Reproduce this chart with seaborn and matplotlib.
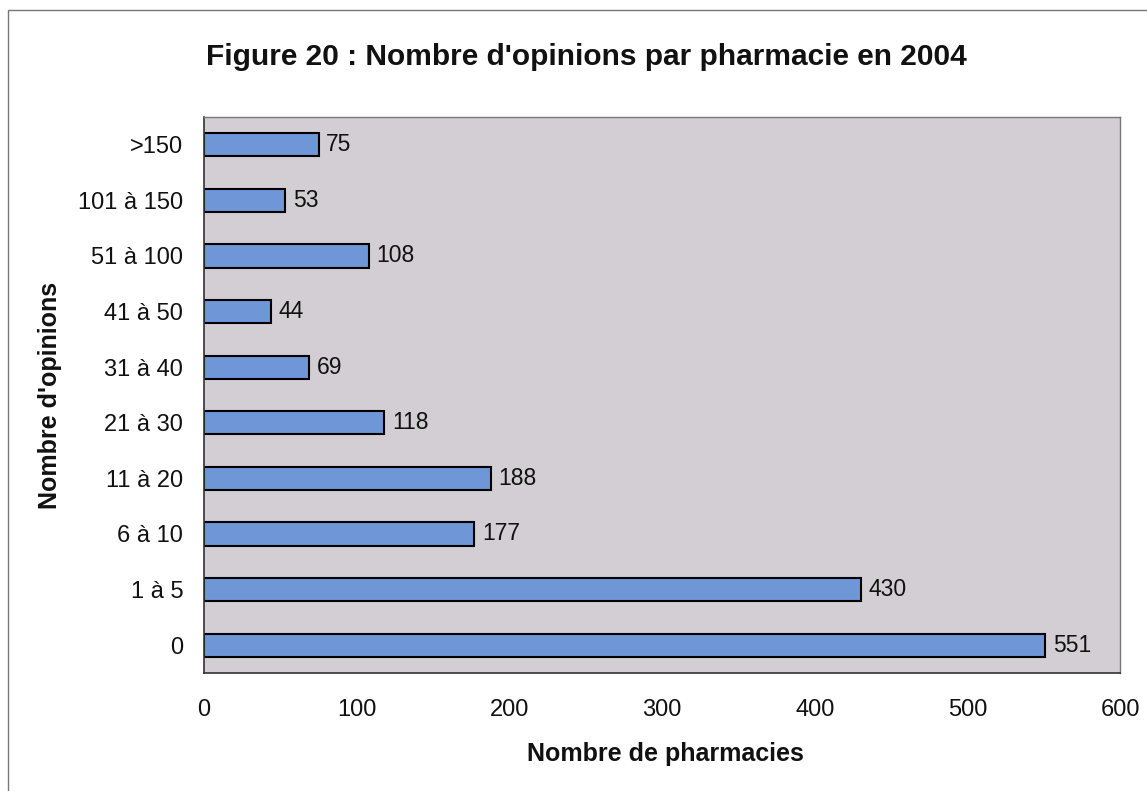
import matplotlib
matplotlib.use("Agg")
import matplotlib.pyplot as plt
import seaborn as sns
import pandas as pd
from matplotlib.patches import Rectangle

categories = [">150", "101 à 150", "51 à 100", "41 à 50", "31 à 40",
              "21 à 30", "11 à 20", "6 à 10", "1 à 5", "0"]
values = [75, 53, 108, 44, 69, 118, 188, 177, 430, 551]
xticks = [0, 100, 200, 300, 400, 500, 600]

df = pd.DataFrame({"cat": categories, "val": values})

sns.set_theme(style="white")
plt.rcParams['font.family'] = ['Liberation Sans', 'DejaVu Sans']

fig = plt.figure(figsize=(11.47, 7.91), dpi=100)
ax = fig.add_axes([0.1779, 0.1492, 0.7986, 0.7029])
ax.set_facecolor("#D3CDD4")

sns.barplot(data=df, y="cat", x="val", order=categories, orient="h",
            color="#6F96D6", edgecolor="black", linewidth=1.5,
            width=0.42, saturation=1, ax=ax)

for i, v in enumerate(values):
    ax.text(v + 5, i, str(v), va="center", ha="left", fontsize=16.5, color="#111111")

ax.set_xlim(0, 600)
ax.set_ylim(len(categories) - 0.5, -0.5)
ax.set_xticks(xticks)
ax.set_xticklabels([str(t) for t in xticks], fontsize=17, color="#111111")
ax.tick_params(axis="x", direction="out", length=6, width=1, color="#444444", pad=13)
ax.set_yticks(range(len(categories)))
ax.set_yticklabels(categories, fontsize=17, color="#111111")
ax.set_yticks([i + 0.5 for i in range(-1, len(categories))], minor=True)
ax.tick_params(axis="y", which="major", length=0, pad=15)
ax.tick_params(axis="y", which="minor", direction="out", length=6, width=1, color="#444444")

for s in ["left", "bottom"]:
    ax.spines[s].set_visible(True)
    ax.spines[s].set_color("#333333")
    ax.spines[s].set_linewidth(1.2)
for s in ["top", "right"]:
    ax.spines[s].set_visible(True)
    ax.spines[s].set_color("#777777")
    ax.spines[s].set_linewidth(1.0)

ax.set_xlabel("")
ax.set_ylabel("")
fig.text(0.5798, 0.0379, "Nombre de pharmacies", ha="center", va="baseline",
         fontsize=18, fontweight="bold", color="#111111")
fig.text(0.044, 0.5, "Nombre d'opinions", ha="center", va="center", rotation=90,
         fontsize=18, fontweight="bold", color="#111111")

fig.text(0.5109, 0.9178, "Figure 20 : Nombre d'opinions par pharmacie en 2004",
         ha="center", va="baseline", fontsize=21.5, fontweight="bold", color="#111111")

fig.patches.append(Rectangle((8 / 1147, -0.01), 1.02, 1 - 10 / 791 + 0.01,
                             transform=fig.transFigure, fill=False,
                             edgecolor="#777777", linewidth=1))

fig.savefig("out.png", dpi=100)
